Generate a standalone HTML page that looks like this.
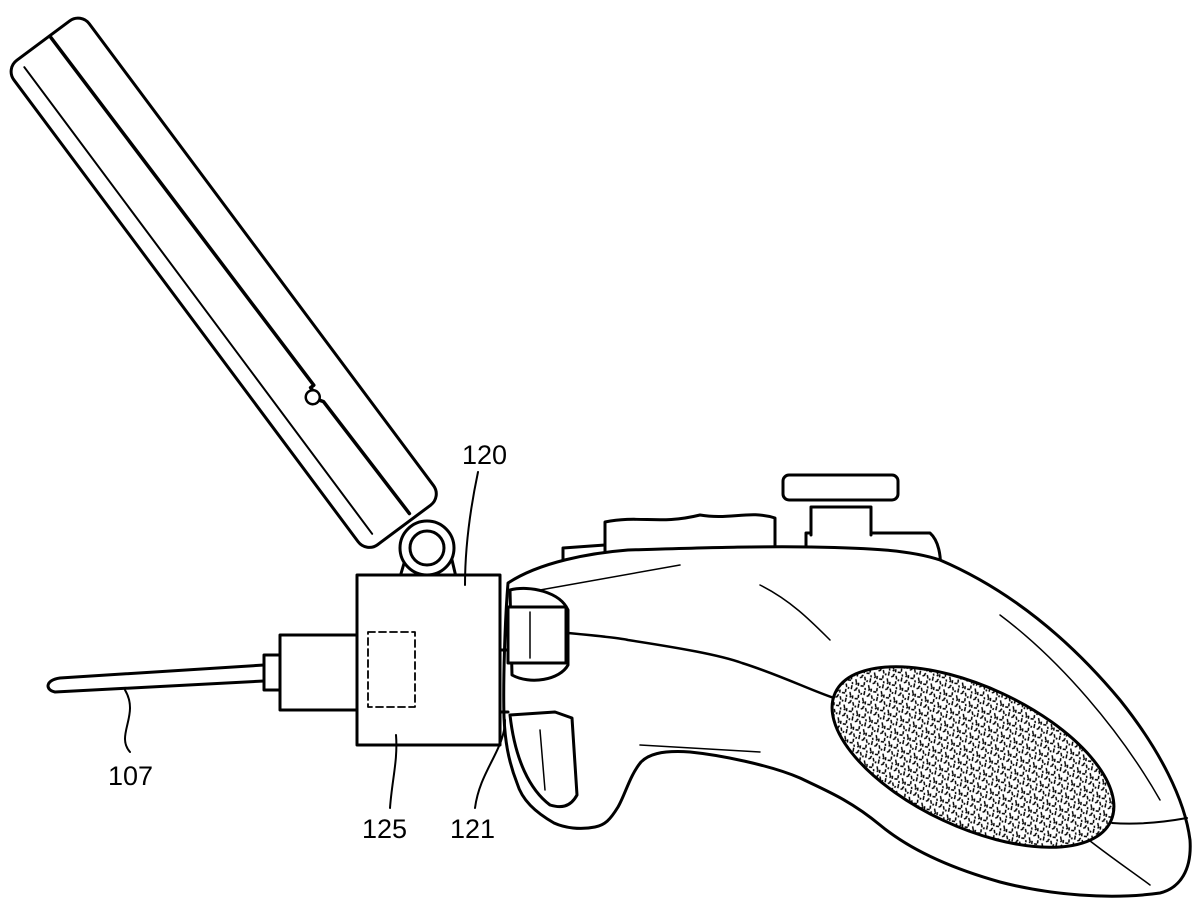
<!DOCTYPE html>
<html><head><meta charset="utf-8"><style>
html,body{margin:0;padding:0;background:#fff;}
svg{display:block;}
text{font-family:"Liberation Sans",sans-serif;font-size:27px;fill:#000;}
</style></head><body>
<svg width="1200" height="919" viewBox="0 0 1200 919" xmlns="http://www.w3.org/2000/svg">
<defs>
<pattern id="spk" width="14" height="14" patternUnits="userSpaceOnUse">
<rect width="14" height="14" fill="#fff"/>
<path d="M1 2l2 3M7 1l1 4M11 5l2-2M3 7l1 3M8 8l2 3M1 12l3-1M6 12l1 2M12 10l1 3M5 4l0 2M10 13l1-2M13 1l-1 2" stroke="#000" stroke-width="1.5" fill="none"/>
</pattern>
</defs>
<g fill="none" stroke="#000" stroke-width="3" stroke-linejoin="round" stroke-linecap="round">
<!-- handheld device -->
<g transform="translate(36,46) rotate(53.3)">
<rect x="0" y="-56" width="604" height="94" rx="14" fill="#fff"/>
<path d="M2 -17 L438 -20 L438 -16 L441 -16" stroke-width="3.5"/>
<path d="M454 -16 L457 -18 L598 -20" stroke-width="3.5"/>
<circle cx="447" cy="-12" r="7" fill="#fff" stroke-width="2.5"/>
<line x1="10" y1="22" x2="592" y2="22" stroke-width="2"/>
</g>
<!-- hinge -->
<path d="M405 560 L400 577 M452 560 L456 577"/>
<circle cx="427" cy="548" r="27" fill="#fff"/>
<circle cx="427" cy="548" r="17"/>
<!-- controller top parts -->
<path d="M806 587 L806 533 L930 533 C938 540 942 555 940 575" fill="#fff"/>
<path d="M563 560 L563 548 L605 545 L605 550" fill="#fff"/>
<path d="M605 560 L605 522 C640 515 660 525 700 515 C730 520 750 510 775 518 L775 555" fill="#fff"/>
<path d="M811 535 L811 507 L871 507 L871 535" fill="#fff"/>
<rect x="783" y="475" width="115" height="25" rx="6" fill="#fff"/>
<path d="M508 583 C540 562 590 553 628 550 C700 548 760 546 811 547 C870 548 910 550 940 560 C1010 590 1070 640 1120 700 C1160 750 1185 800 1190 840 C1192 870 1180 888 1160 893 C1110 900 1050 895 1000 882 C950 868 910 850 880 825 C850 800 825 790 800 778 C770 765 720 755 690 752 C660 750 648 755 641 762 C630 775 625 795 618 807 C610 820 605 825 595 827 C580 830 565 828 554 823 C535 812 522 800 517 783 C508 760 505 740 504 717 C503 680 505 620 508 583 Z" fill="#fff"/>
<path d="M568 633 C600 636 620 638 628 640 C680 648 720 655 742 663 C780 675 810 690 834 698" stroke-width="2.5"/>
<path d="M1112 823 C1140 825 1165 822 1187 818" stroke-width="2"/>
<path d="M760 585 C790 600 810 620 830 640" stroke-width="1.5"/>
<path d="M1000 615 C1060 660 1120 730 1160 800" stroke-width="1.5"/>
<path d="M1070 825 C1100 850 1130 870 1150 885" stroke-width="1.5"/>
<path d="M540 590 L680 565" stroke-width="1.5"/>
<path d="M640 745 L760 752" stroke-width="1.5"/>
<!-- front buttons -->
<path d="M510 590 C530 585 560 592 568 610 L568 665 C560 680 530 685 512 675 Z" fill="#fff"/>
<rect x="508" y="607" width="58" height="56" fill="#fff"/>
<path d="M530 612 L530 658" stroke-width="1.5"/>
<path d="M510 715 L555 712 L572 718 L577 795 C570 808 560 808 550 805 C530 790 515 760 510 715 Z" fill="#fff"/>
<path d="M540 730 L545 790" stroke-width="1.5"/>
<ellipse cx="973" cy="757" rx="152" ry="70" transform="rotate(25 973 757)" fill="url(#spk)"/>
<!-- box 120 -->
<rect x="357" y="575" width="143" height="170" fill="#fff"/>
<rect x="368" y="632" width="47" height="75" stroke-dasharray="7,4" stroke-width="1.8"/>
<line x1="500" y1="650" x2="508" y2="650"/><line x1="500" y1="712" x2="508" y2="712"/>
<!-- plug -->
<rect x="280" y="635" width="77" height="75" fill="#fff"/>
<rect x="264" y="655" width="16" height="35" fill="#fff"/>
<!-- cable -->
<path d="M264 665 L60 678 C45 680 45 690 55 692 L264 681"/>
<!-- leaders -->
<path d="M478 472 C470 510 465 550 465 585" stroke-width="2"/>
<path d="M130 752 C115 735 140 715 125 690" stroke-width="2"/>
<path d="M390 808 C392 780 398 760 396 735" stroke-width="2"/>
<path d="M475 808 C480 770 505 750 505 720" stroke-width="2"/>
</g>
<text x="462" y="464">120</text>
<text x="108" y="785">107</text>
<text x="362" y="838">125</text>
<text x="450" y="838">121</text>
</svg>
</body></html>
